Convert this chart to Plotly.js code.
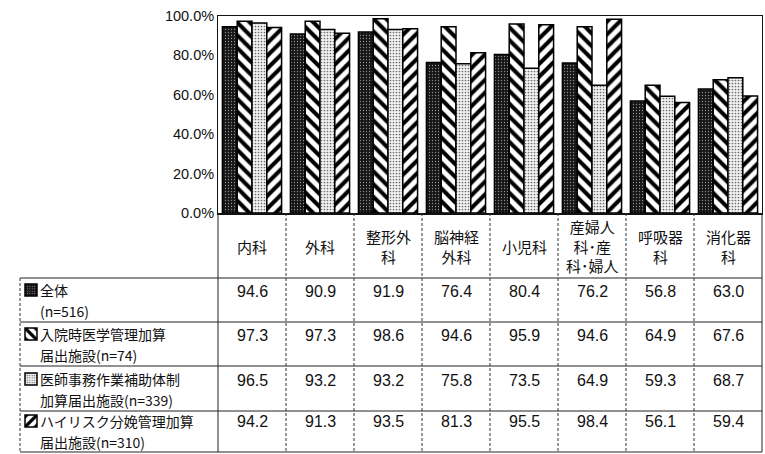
<!DOCTYPE html>
<html>
<head>
<meta charset="utf-8">
<script src="https://cdn.plot.ly/plotly-3.0.1.min.js"></script>
<style>
  html, body { margin: 0; padding: 0; background: #fff; }
  #chart { width: 765px; height: 454px; }
</style>
</head>
<body>
<div id="chart"></div>
<script>
// Departments (header row of the data table; <br> marks the line breaks)
const departments = ['内科', '外科', '整形外<br>科', '脳神経<br>外科', '小児科', '産婦人<br>科･産<br>科･婦人', '呼吸器<br>科', '消化器<br>科'];

// Series names (row labels of the data table), one entry per printed line
const seriesNames = [
  ['全体', '(n=516)'],
  ['入院時医学管理加算', '届出施設(n=74)'],
  ['医師事務作業補助体制', '加算届出施設(n=339)'],
  ['ハイリスク分娩管理加算', '届出施設(n=310)']
];

// Percentages per department
const allHospitals    = [94.6, 90.9, 91.9, 76.4, 80.4, 76.2, 56.8, 63.0];
const admissionMgmt   = [97.3, 97.3, 98.6, 94.6, 95.9, 94.6, 64.9, 67.6];
const clericalSupport = [96.5, 93.2, 93.2, 75.8, 73.5, 64.9, 59.3, 68.7];
const highRiskBirth   = [94.2, 91.3, 93.5, 81.3, 95.5, 98.4, 56.1, 59.4];

const seriesValues = [allHospitals, admissionMgmt, clericalSupport, highRiskBirth];

// Fill styles for the four series
const fills = [
  { shape: '.', bgcolor: '#161616', fgcolor: '#8c8c8c', size: 3, solidity: 0.15, fillmode: 'replace' },
  { shape: '\\', bgcolor: '#ffffff', fgcolor: '#000000', size: 9, solidity: 0.45, fillmode: 'replace' },
  { shape: '.', bgcolor: '#f2f2f2', fgcolor: '#6a6a6a', size: 3, solidity: 0.25, fillmode: 'replace' },
  { shape: '/', bgcolor: '#ffffff', fgcolor: '#000000', size: 9, solidity: 0.45, fillmode: 'replace' }
];

// Plot-area geometry in pixels, used to place the table below the axis
const W = 765, H = 454;
const M = { l: 218, r: 3, t: 16, b: 241, autoexpand: false };
const plotW = W - M.l - M.r;
const plotH = H - M.t - M.b;
const xp = px => (px - M.l) / plotW;
const yp = py => (M.t + plotH - py) / plotH;

const CJK = 'Noto Sans CJK JP, sans-serif';
const NUM = 'Liberation Sans Narrow, Liberation Sans, Arial, sans-serif';

// Table rows: pixel y of the horizontal rules, and of the first text line in each row
const headerTop = 213;
const rowRules = [278, 322, 366, 411, 452];
const rowTextY = [290, 334, 379, 421];
const labelLineGap = 20.5;
const tableLeft = 20, tableRight = W - M.r;

// Each series gets its own one-item legend (the key swatch) at the left of its table row
const legendIds = ['legend', 'legend2', 'legend3', 'legend4'];

const traces = seriesValues.map((vals, i) => ({
  type: 'bar',
  name: ' ',
  legend: legendIds[i],
  x: departments,
  y: vals,
  marker: {
    color: fills[i].bgcolor,
    pattern: fills[i],
    line: { color: '#000', width: 1.5 }
  },
  hoverinfo: 'skip'
}));

const shapes = [];
const solid = { color: '#222', width: 1 };
const dashed = { color: '#333', width: 1, dash: '3px,2px' };
rowRules.forEach(py => {
  shapes.push({ type: 'line', xref: 'paper', yref: 'paper',
    x0: xp(tableLeft), x1: xp(tableRight), y0: yp(py), y1: yp(py), line: solid });
});
shapes.push({ type: 'line', xref: 'paper', yref: 'paper', x0: 0, x1: 0, y0: yp(headerTop), y1: yp(452), line: solid });
shapes.push({ type: 'line', xref: 'paper', yref: 'paper', x0: 1, x1: 1, y0: yp(headerTop), y1: yp(452), line: solid });
shapes.push({ type: 'line', xref: 'paper', yref: 'paper', x0: xp(tableLeft), x1: xp(tableLeft), y0: yp(278), y1: yp(452), line: dashed });
// column separators between departments
for (let i = 1; i < departments.length; i++) {
  shapes.push({ type: 'line', xref: 'x', yref: 'paper', x0: i - 0.5, x1: i - 0.5,
    y0: yp(headerTop), y1: yp(452), line: dashed });
}

const annotations = [];
// header row: department names
departments.forEach((d, i) => {
  annotations.push({ xref: 'x', yref: 'paper', x: i, y: yp(246), text: d,
    showarrow: false, xanchor: 'center', yanchor: 'middle', align: 'center',
    font: { family: CJK, size: 15, color: '#111' } });
});
// row labels, one annotation per line
seriesNames.forEach((lines, r) => {
  lines.forEach((t, k) => {
    annotations.push({ xref: 'paper', yref: 'paper', x: xp(39),
      y: yp(rowTextY[r] + k * labelLineGap), text: t, showarrow: false,
      xanchor: 'left', yanchor: 'middle', align: 'left', borderpad: 0,
      font: { family: CJK, size: 14, color: '#111' } });
  });
});
// values
seriesValues.forEach((vals, r) => {
  vals.forEach((v, i) => {
    annotations.push({ xref: 'x', yref: 'paper', x: i, y: yp(rowTextY[r] + 1),
      text: v.toFixed(1), showarrow: false, xanchor: 'center', yanchor: 'middle',
      font: { family: NUM, size: 16, color: '#111' } });
  });
});

const layout = {
  width: W, height: H,
  margin: M,
  paper_bgcolor: '#fff', plot_bgcolor: '#fff',
  barmode: 'group', bargap: 0.13, bargroupgap: 0,
  showlegend: true,
  xaxis: {
    type: 'category', range: [-0.5, departments.length - 0.5],
    showticklabels: false, ticks: '', showgrid: false,
    showline: true, linecolor: '#111', linewidth: 1.5, mirror: true,
    fixedrange: true
  },
  yaxis: {
    range: [0, 100], dtick: 20, tickformat: '.1f', ticksuffix: '%',
    showgrid: false, zeroline: false, ticks: '',
    showline: true, linecolor: '#111', linewidth: 1, mirror: true,
    tickfont: { family: NUM, size: 14.5, color: '#111' },
    fixedrange: true
  },
  shapes, annotations
};

legendIds.forEach((id, r) => {
  layout[id] = {
    x: xp(11), y: yp(rowTextY[r]), xanchor: 'left', yanchor: 'middle',
    bgcolor: 'rgba(0,0,0,0)', borderwidth: 0,
    font: { family: CJK, size: 4, color: '#111' },
    itemclick: false, itemdoubleclick: false
  };
});

Plotly.newPlot('chart', traces, layout, { staticPlot: true, displayModeBar: false });
</script>
</body>
</html>
